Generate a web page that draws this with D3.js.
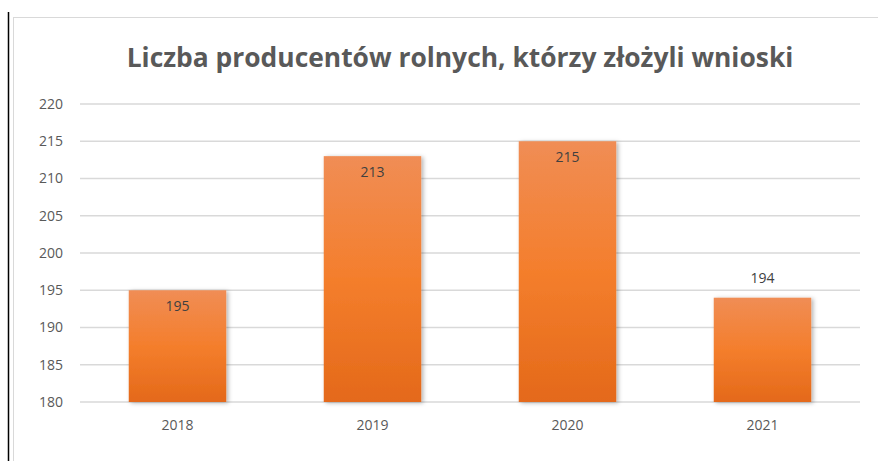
<!DOCTYPE html>
<html>
<head>
<meta charset="utf-8">
<script src="https://cdn.jsdelivr.net/npm/d3@7"></script>
<style>
  body { margin: 0; background: #fff; }
  svg { display: block; }
</style>
</head>
<body>
<svg id="chart" width="878" height="461"></svg>
<script>
// Data
const years = ["2018", "2019", "2020", "2021"];
const producers = [195, 213, 215, 194];
const labelInside = [true, true, true, false];
const yTicks = [180, 185, 190, 195, 200, 205, 210, 215, 220];
const title = "Liczba producentów rolnych, którzy złożyli wnioski";

const svg = d3.select("#chart"),
      width = +svg.attr("width"),
      height = +svg.attr("height"),
      margin = { top: 104, right: 18, bottom: 59, left: 80 };

// gradient + shadow for bars
const defs = svg.append("defs");
const grad = defs.append("linearGradient")
    .attr("id", "barGrad")
    .attr("x1", 0).attr("y1", 0).attr("x2", 0).attr("y2", 1);
grad.append("stop").attr("offset", "0%").attr("stop-color", "#F08D55");
grad.append("stop").attr("offset", "50%").attr("stop-color", "#F47E2C");
grad.append("stop").attr("offset", "100%").attr("stop-color", "#E4691A");

const shadow = defs.append("filter").attr("id", "shadow")
    .attr("x", "-10%").attr("y", "-10%").attr("width", "130%").attr("height", "120%");
shadow.append("feDropShadow")
    .attr("dx", 2).attr("dy", 1).attr("stdDeviation", 2)
    .attr("flood-color", "#000").attr("flood-opacity", 0.3);

// outer decorations: black line and chart frame
svg.append("line")
    .attr("x1", 8.5).attr("x2", 8.5).attr("y1", 12).attr("y2", height)
    .attr("stroke", "#000").attr("stroke-width", 1.5);
svg.append("rect")
    .attr("x", 13.5).attr("y", 17.5).attr("width", width).attr("height", height)
    .attr("fill", "none").attr("stroke", "#D9D9D9").attr("stroke-width", 1);

const x = d3.scaleBand()
    .domain(years)
    .range([margin.left, width - margin.right])
    .paddingInner(0.5)
    .paddingOuter(0.25);

const y = d3.scaleLinear()
    .domain([180, 220])
    .range([height - margin.bottom, margin.top]);

// gridlines
svg.append("g")
    .selectAll("line")
    .data(yTicks)
    .enter()
    .append("line")
    .attr("x1", margin.left)
    .attr("x2", width - margin.right)
    .attr("y1", d => y(d))
    .attr("y2", d => y(d))
    .attr("stroke", "#D9D9D9")
    .attr("stroke-width", 1.5);

// y axis labels
const yAxis = svg.append("g")
    .attr("transform", `translate(${margin.left - 17},0)`)
    .call(d3.axisLeft(y).tickValues(yTicks).tickSize(0).tickPadding(0));
yAxis.select(".domain").remove();
yAxis.selectAll("text")
    .attr("font-family", "'Open Sans', sans-serif")
    .attr("font-size", 14)
    .attr("fill", "#595959");

// x axis labels
const xAxis = svg.append("g")
    .attr("transform", `translate(0,${height - margin.bottom})`)
    .call(d3.axisBottom(x).tickSize(0).tickPadding(18));
xAxis.select(".domain").remove();
xAxis.selectAll("text")
    .attr("font-family", "'Open Sans', sans-serif")
    .attr("font-size", 14)
    .attr("fill", "#595959");

// bars
svg.append("g")
    .selectAll("rect")
    .data(producers)
    .enter()
    .append("rect")
    .attr("x", (d, i) => x(years[i]))
    .attr("y", d => y(d))
    .attr("width", x.bandwidth())
    .attr("height", d => y(180) - y(d))
    .attr("fill", "url(#barGrad)")
    .attr("filter", "url(#shadow)");

// value labels
svg.append("g")
    .selectAll("text")
    .data(producers)
    .enter()
    .append("text")
    .attr("x", (d, i) => x(years[i]) + x.bandwidth() / 2)
    .attr("y", (d, i) => labelInside[i] ? y(d) + 21 : y(d) - 15)
    .attr("text-anchor", "middle")
    .attr("font-family", "'Open Sans', sans-serif")
    .attr("font-size", 14)
    .attr("fill", "#404040")
    .text(d => d);

// title
svg.append("text")
    .attr("x", 460)
    .attr("y", 67)
    .attr("text-anchor", "middle")
    .attr("font-family", "'Open Sans', sans-serif")
    .attr("font-weight", "bold")
    .attr("font-size", 26.4)
    .attr("fill", "#595959")
    .text(title);
</script>
</body>
</html>
